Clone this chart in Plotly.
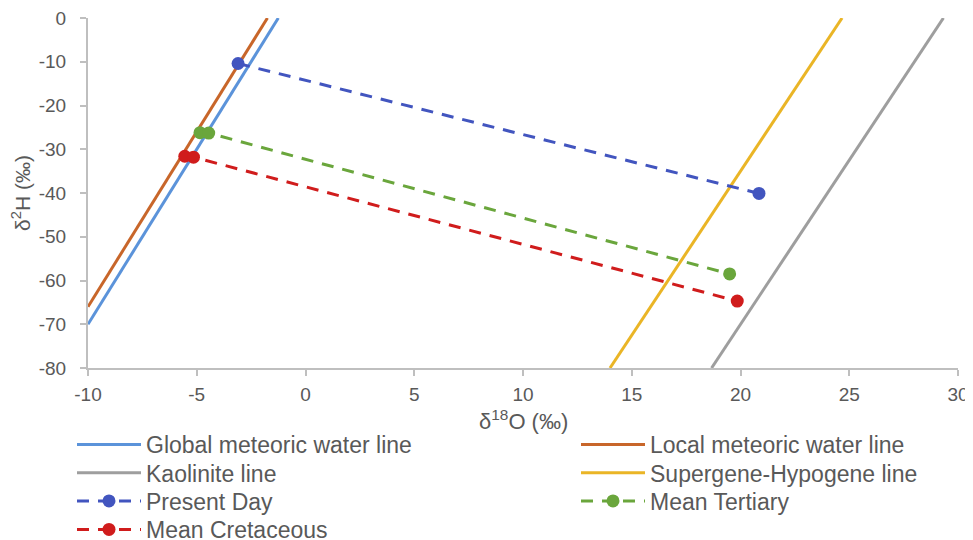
import plotly.graph_objects as go

# Reference lines: endpoints along the x range (delta18O), values of delta2H
gmwl_x = [-10, -1.25]
gmwl_y = [-70, 0]
lmwl_x = [-10, -1.75]
lmwl_y = [-66, 0]
kaol_x = [18.67, 29.33]
kaol_y = [-80, 0]
sh_x = [14.0, 24.67]
sh_y = [-80, 0]

# Data series
present_x = [-3.1, 20.85]
present_y = [-10.4, -40.1]
tertiary_x = [-4.85, -4.45, 19.5]
tertiary_y = [-26.2, -26.3, -58.5]
cretaceous_x = [-5.55, -5.15, 19.85]
cretaceous_y = [-31.6, -31.8, -64.7]

x_ticks = [-10, -5, 0, 5, 10, 15, 20, 25, 30]
y_ticks = [0, -10, -20, -30, -40, -50, -60, -70, -80]

FONT = "Liberation Sans, Arial, sans-serif"
TXT = "#595959"
# page body adds an 8px offset; figure sized so it ends at the window edge
OFF = 8
W, H = 973 - OFF, 540 - OFF

fig = go.Figure()
fig.add_trace(go.Scatter(x=gmwl_x, y=gmwl_y, mode="lines", name="Global meteoric water line",
                         line=dict(color="#5B93DA", width=3), legend="legend"))
fig.add_trace(go.Scatter(x=lmwl_x, y=lmwl_y, mode="lines", name="Local meteoric water line",
                         line=dict(color="#C8662A", width=3), legend="legend2"))
fig.add_trace(go.Scatter(x=kaol_x, y=kaol_y, mode="lines", name="Kaolinite line",
                         line=dict(color="#9E9E9E", width=3), legend="legend3"))
fig.add_trace(go.Scatter(x=sh_x, y=sh_y, mode="lines", name="Supergene-Hypogene line",
                         line=dict(color="#EAB526", width=3), legend="legend4"))
fig.add_trace(go.Scatter(x=present_x, y=present_y, mode="lines+markers", name="Present Day",
                         line=dict(color="#4255BF", width=3, dash="12px,9px"),
                         marker=dict(size=13, color="#4255BF"), legend="legend5"))
fig.add_trace(go.Scatter(x=tertiary_x, y=tertiary_y, mode="lines+markers", name="Mean Tertiary",
                         line=dict(color="#6AA63C", width=3, dash="12px,9px"),
                         marker=dict(size=13, color="#6AA63C"), legend="legend6"))
fig.add_trace(go.Scatter(x=cretaceous_x, y=cretaceous_y, mode="lines+markers", name="Mean Cretaceous",
                         line=dict(color="#D01C1C", width=3, dash="12px,9px"),
                         marker=dict(size=13, color="#D01C1C"), legend="legend7"))

axis_common = dict(showgrid=False, zeroline=False, showline=True, linecolor="#BFBFBF", linewidth=2,
                   ticks="outside", tickcolor="#BFBFBF", ticklen=6, tickwidth=2,
                   tickfont=dict(family=FONT, size=19, color=TXT), automargin=True,
                   ticklabeloverflow="allow")


def leg(px_left, py_center):
    return dict(x=(px_left - OFF) / W, xanchor="left", xref="container",
                y=1 - (py_center - OFF) / H, yanchor="middle", yref="container",
                orientation="h",
                font=dict(family=FONT, size=23, color=TXT), itemwidth=64,
                bgcolor="rgba(0,0,0,0)", borderwidth=0)


col1, col2 = 72, 576
rows = [444.5, 472.7, 501, 529.5]

fig.update_layout(
    width=W, height=H,
    margin=dict(l=88 - OFF, r=973 - 958, t=18 - OFF, b=540 - 368, autoexpand=False),
    paper_bgcolor="white", plot_bgcolor="white",
    font=dict(family=FONT, color=TXT),
    xaxis=dict(range=[-10, 30], tickvals=x_ticks, ticktext=[str(v) for v in x_ticks],
               ticklabelstandoff=2, **axis_common),
    yaxis=dict(range=[-80, 0], tickvals=y_ticks, ticktext=[str(v) for v in y_ticks],
               title=dict(text="δ<sup>2</sup>H (‰)", font=dict(family=FONT, size=21, color=TXT), standoff=10),
               ticklabelstandoff=10, **axis_common),
    annotations=[dict(text="δ<sup>18</sup>O (‰)", xref="paper", yref="paper", x=0.5, y=-52 / 350,
                      xanchor="center", yanchor="middle", showarrow=False,
                      font=dict(family=FONT, size=22, color=TXT))],
    legend=leg(col1, rows[0]),
    legend2=leg(col2, rows[0]),
    legend3=leg(col1, rows[1]),
    legend4=leg(col2, rows[1]),
    legend5=leg(col1, rows[2]),
    legend6=leg(col2, rows[2]),
    legend7=leg(col1, rows[3]),
    showlegend=True,
)

fig.write_html("out.html")
